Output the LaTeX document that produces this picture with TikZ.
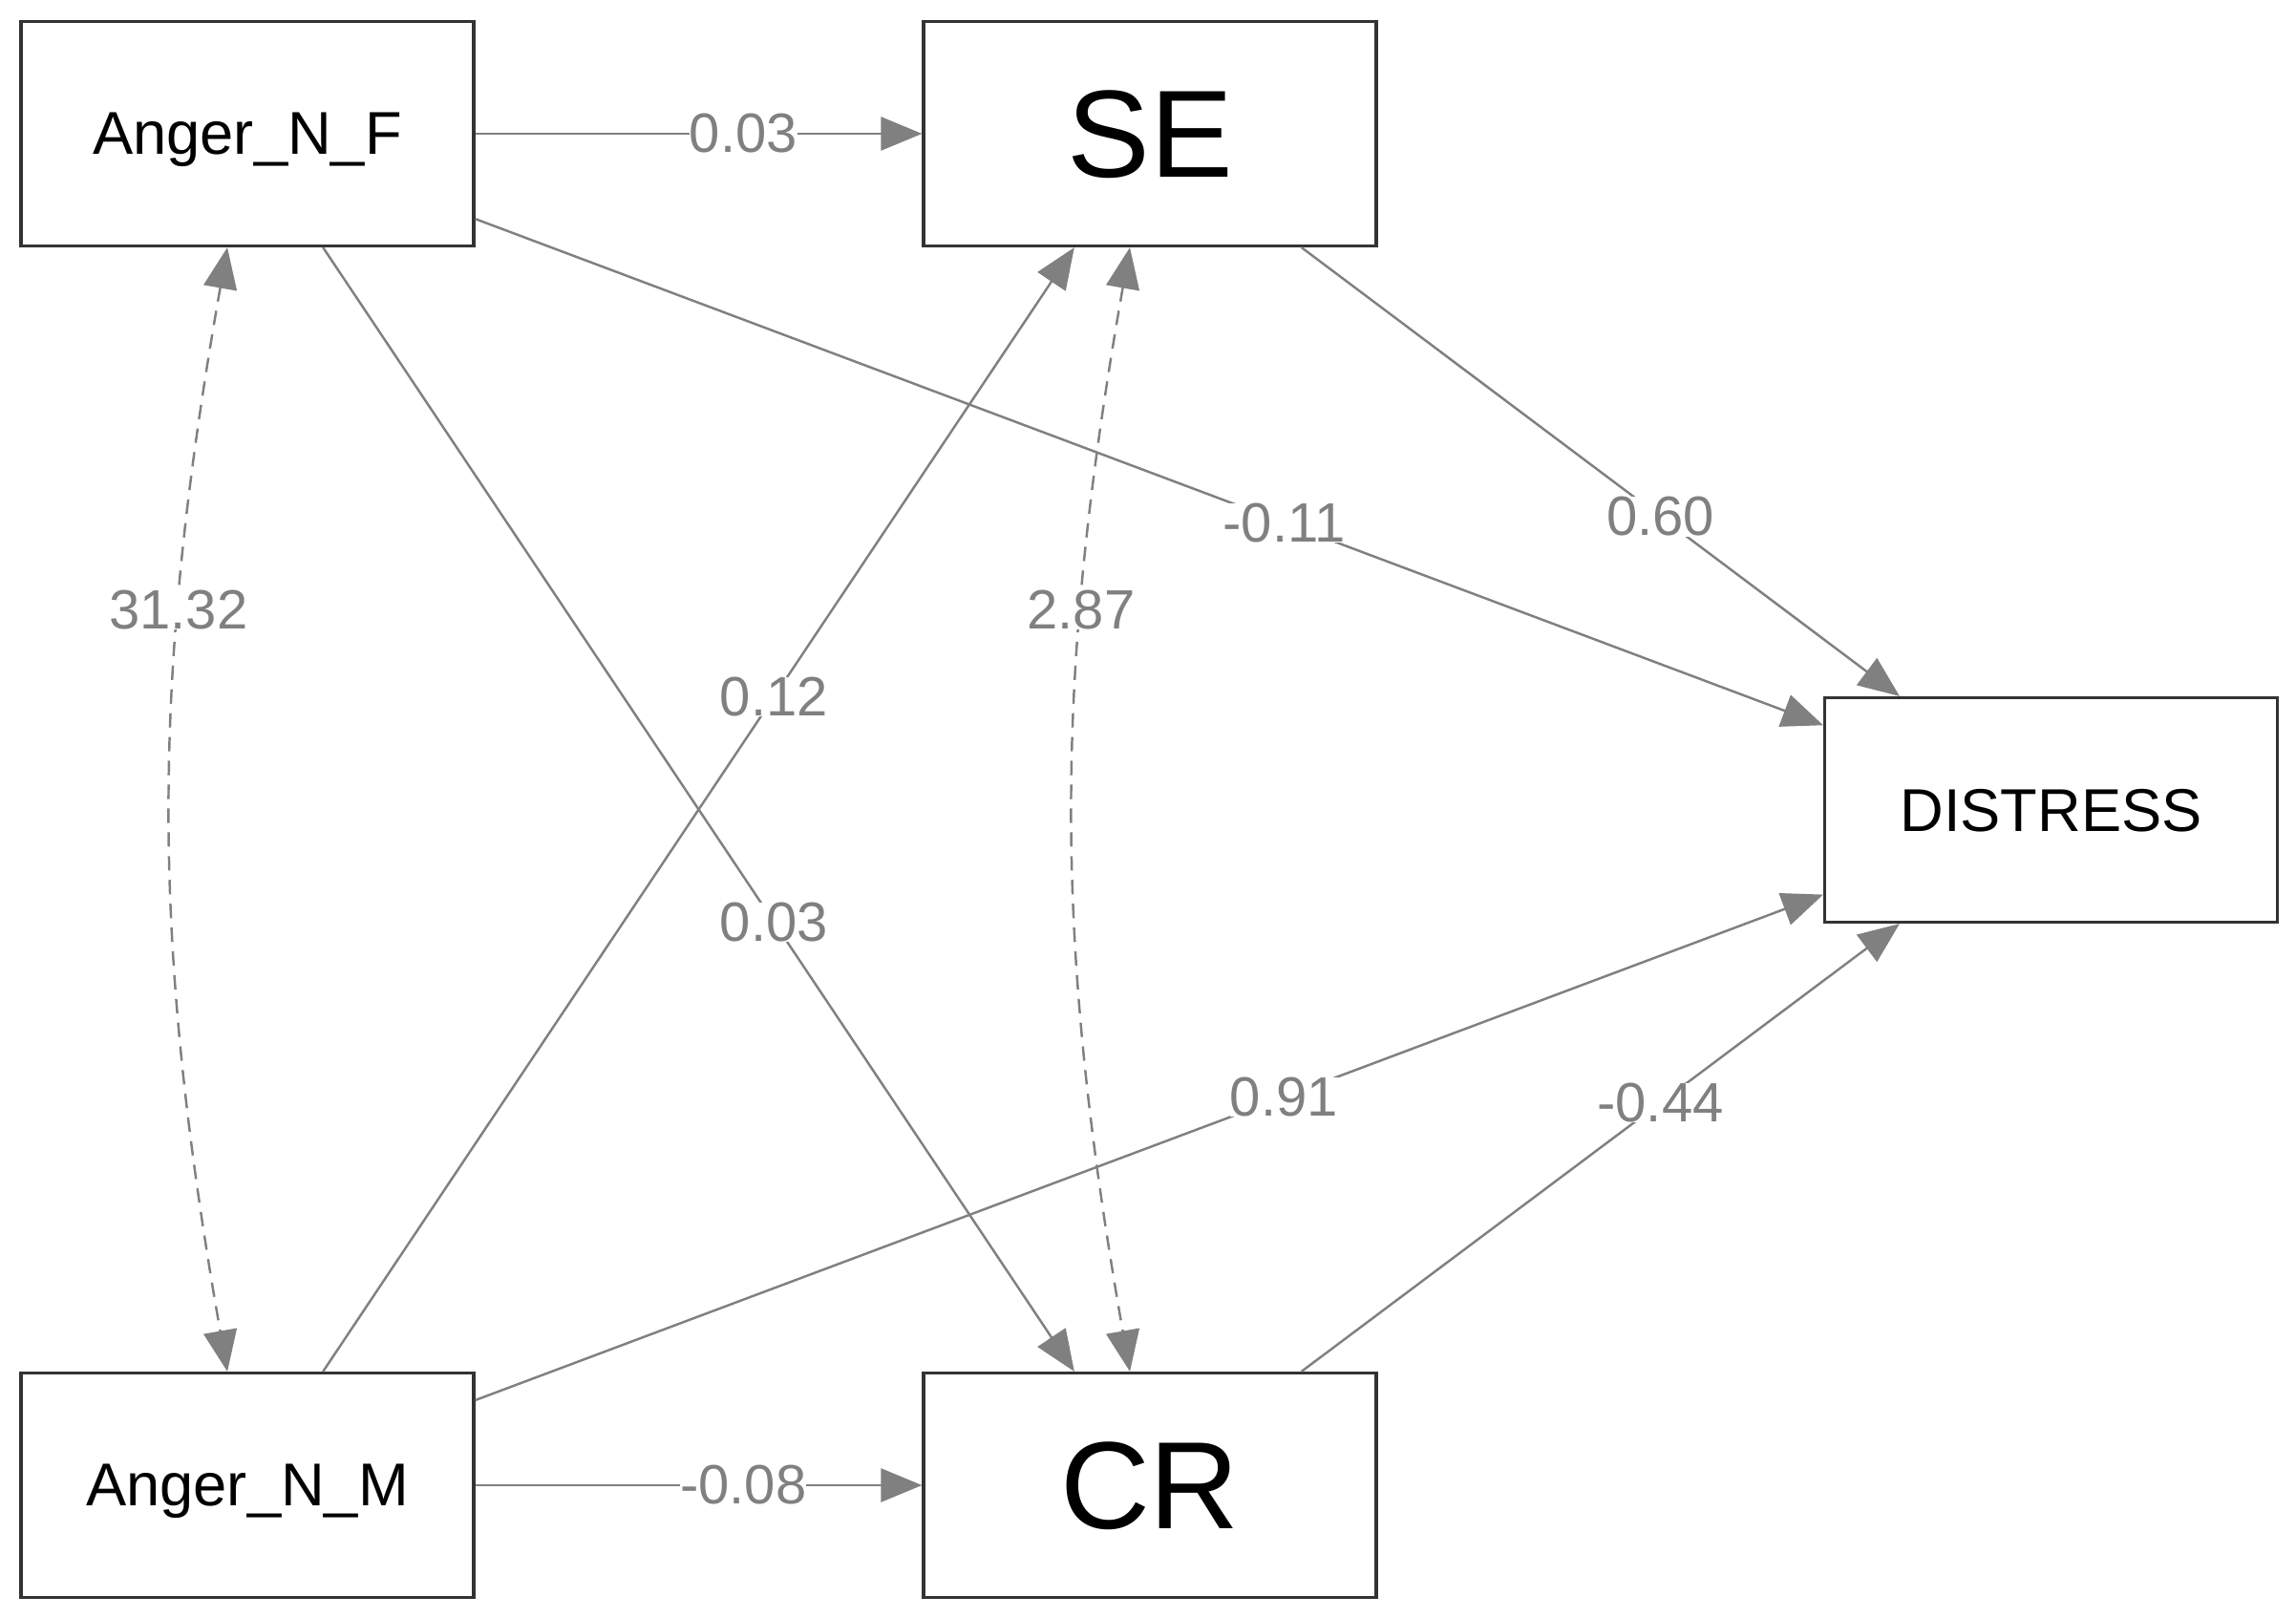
\documentclass[tikz,border=0pt]{standalone}
\usepackage{fontspec}
\setmainfont{Liberation Sans}
\usepackage{tikz}
\usetikzlibrary{arrows.meta,positioning}
\definecolor{linegray}{RGB}{128,128,128}
\definecolor{boxgray}{RGB}{51,51,51}
\tikzset{
%Define standard arrow tip
>={Triangle[length=4.3mm,width=3.5mm]},
%Define style for the variable boxes
var box/.style={draw=boxgray, line width=0.9pt, fill=white, inner sep=0pt,
  text depth=0pt, minimum width=4.74cm, minimum height=2.35cm},
big label/.style={font=\fontsize{37}{44}\selectfont},
small label/.style={font=\fontsize{18}{22}\selectfont},
%Define style for the different line styles
effect/.style={->, draw=linegray, line width=0.7pt},
covariance/.style={<->, draw=linegray, line width=0.7pt, dash pattern=on 4.3pt off 2.8pt},
estimate/.style={fill=white, inner sep=0pt, text=linegray,
  font=\fontsize{16.5}{19}\selectfont},
}

\begin{document}
\begin{tikzpicture}
    %Fix the size of the canvas
    \useasboundingbox (0,0) rectangle (24.04,16.93);
    %Draw the variables
    \node[var box, small label] (anf) at (2.59,15.53) {Anger\_N\_F};
    \node[var box, big label] (se) at (12.04,15.53) {SE};
    \node[var box, small label] (dist) at (21.475,8.45) {DISTRESS};
    \node[var box, small label] (anm) at (2.59,1.38) {Anger\_N\_M};
    \node[var box, big label] (cr) at (12.04,1.38) {CR};

    %Covariances between the predictors and between the mediators
    \draw[covariance] (anf) to[bend right=10] node[estimate, pos=0.31] {31.32} (anm);
    \draw[covariance] (se) to[bend right=10] node[estimate, pos=0.31] {2.87} (cr);

    %Paths from the predictors
    \draw[effect] (anf) -- node[estimate, pos=0.6] {0.03} (se);
    \draw[effect] (anf) -- node[estimate, pos=0.6] {-0.11} (dist);
    \draw[effect] (anf) -- node[estimate, pos=0.6] {0.03} (cr);
    \draw[effect] (anm) -- node[estimate, pos=0.6] {0.12} (se);
    \draw[effect] (anm) -- node[estimate, pos=0.6] {0.91} (dist);
    \draw[effect] (anm) -- node[estimate, pos=0.6] {-0.08} (cr);
    %Paths from the mediators
    \draw[effect] (se) -- node[estimate, pos=0.6] {0.60} (dist);
    \draw[effect] (cr) -- node[estimate, pos=0.6] {-0.44} (dist);
\end{tikzpicture}
\end{document}
